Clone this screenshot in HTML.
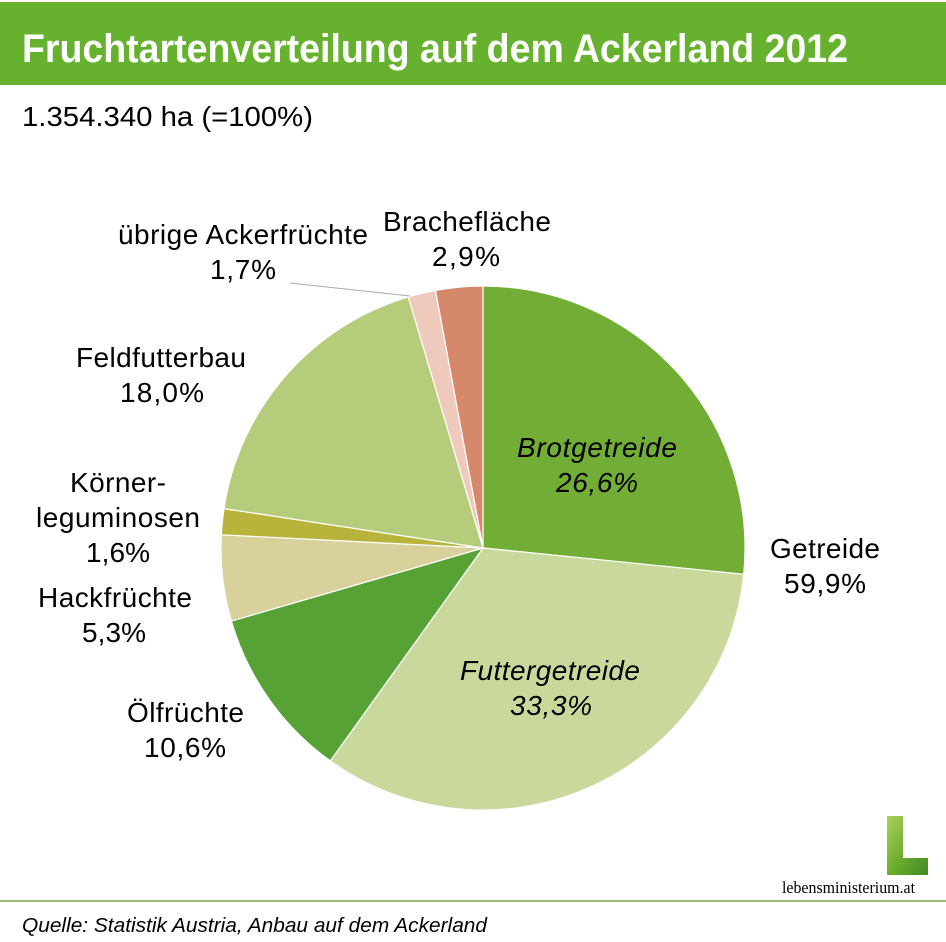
<!DOCTYPE html>
<html><head><meta charset="utf-8"><style>
html,body{margin:0;padding:0;background:#fff;}
svg{display:block;font-family:"Liberation Sans",Arial,sans-serif;}
</style></head><body>
<svg width="946" height="942" viewBox="0 0 946 942">
<rect x="0" y="2" width="946" height="83" fill="#66b22f"/>
<text x="22" y="62" font-size="40" font-weight="bold" fill="#fff" textLength="826" lengthAdjust="spacingAndGlyphs">Fruchtartenverteilung auf dem Ackerland 2012</text>
<text x="22" y="126" font-size="28" fill="#000" textLength="291" lengthAdjust="spacingAndGlyphs">1.354.340 ha (=100%)</text>
<g stroke="#fff" stroke-width="1.2" stroke-linejoin="round">
<path d="M483,548 L483,286 A262,262 0 0 1 743.7,574.3 Z" fill="#72ad36"/>
<path d="M483,548 L743.7,574.3 A262,262 0 0 1 330.3,760.9 Z" fill="#c9d99b"/>
<path d="M483,548 L330.3,760.9 A262,262 0 0 1 231.4,621.1 Z" fill="#57a235"/>
<path d="M483,548 L231.4,621.1 A262,262 0 0 1 221.3,534.8 Z" fill="#d8d19c"/>
<path d="M483,548 L221.3,534.8 A262,262 0 0 1 224.0,508.6 Z" fill="#b8b33a"/>
<path d="M483,548 L224.0,508.6 A262,262 0 0 1 408.3,296.9 Z" fill="#b5cc7b"/>
<path d="M483,548 L408.3,296.9 A262,262 0 0 1 435.5,290.4 Z" fill="#f0c9bd"/>
<path d="M483,548 L435.5,290.4 A262,262 0 0 1 483,286 Z" fill="#d5896a"/>
</g>
<line x1="290" y1="283" x2="410" y2="296" stroke="#aaa" stroke-width="1"/>
<g font-size="28" fill="#000" lengthAdjust="spacingAndGlyphs">
<text x="517" y="457" font-style="italic" textLength="160">Brotgetreide</text>
<text x="556" y="492" font-style="italic" textLength="82">26,6%</text>
<text x="460" y="680" font-style="italic" textLength="180">Futtergetreide</text>
<text x="510" y="715" font-style="italic" textLength="82">33,3%</text>
<text x="770" y="558" textLength="110">Getreide</text>
<text x="784" y="593" textLength="82">59,9%</text>
<text x="383" y="231" textLength="168">Brachefläche</text>
<text x="432" y="266" textLength="68">2,9%</text>
<text x="118" y="244" textLength="250">übrige Ackerfrüchte</text>
<text x="210" y="279" textLength="66">1,7%</text>
<text x="76" y="367" textLength="170">Feldfutterbau</text>
<text x="120" y="402" textLength="84">18,0%</text>
<text x="70" y="492" textLength="96">Körner-</text>
<text x="36" y="527" textLength="164">leguminosen</text>
<text x="86" y="562" textLength="64">1,6%</text>
<text x="38" y="607" textLength="154">Hackfrüchte</text>
<text x="82" y="642" textLength="64">5,3%</text>
<text x="127" y="722" textLength="117">Ölfrüchte</text>
<text x="144" y="757" textLength="82">10,6%</text>
</g>
<defs><linearGradient id="lg" x1="0" y1="0" x2="1" y2="1"><stop offset="0" stop-color="#a9d35a"/><stop offset="0.5" stop-color="#6fae2e"/><stop offset="1" stop-color="#3f8a23"/></linearGradient></defs>
<path d="M887,816 H903 V858 H928 V875 H887 Z" fill="url(#lg)"/>
<text x="782" y="893" font-family="'Liberation Serif',serif" font-size="17" fill="#000" textLength="133" lengthAdjust="spacingAndGlyphs">lebensministerium.at</text>
<line x1="0" y1="901" x2="946" y2="901" stroke="#7aa84a" stroke-width="1.5"/>
<text x="22" y="932" font-size="20" font-style="italic" fill="#000" textLength="465" lengthAdjust="spacingAndGlyphs">Quelle: Statistik Austria, Anbau auf dem Ackerland</text>
</svg>
</body></html>
